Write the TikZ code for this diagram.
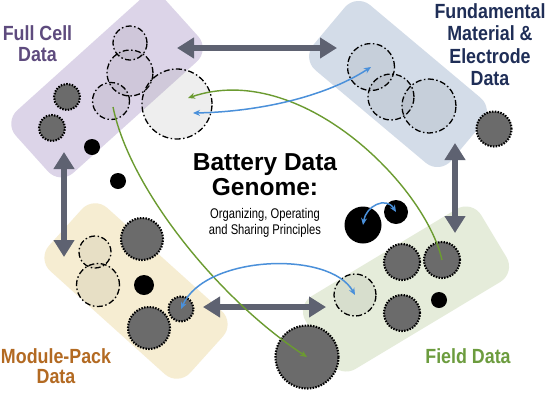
\documentclass[tikz,border=0pt]{standalone}
\usepackage{fontspec}
\setmainfont{Liberation Sans}
\newfontfamily\condfont[FakeStretch=0.87]{Liberation Sans}
\newfontfamily\subfont[FakeStretch=0.8]{Liberation Sans}
\usetikzlibrary{arrows.meta}
\definecolor{fcpanel}{HTML}{DCD4E8}
\definecolor{fupanel}{HTML}{D3DCE8}
\definecolor{mopanel}{HTML}{F6EDD2}
\definecolor{fipanel}{HTML}{E5ECDA}
\definecolor{fctext}{HTML}{5E4B7E}
\definecolor{futext}{HTML}{1F2E57}
\definecolor{motext}{HTML}{B36A22}
\definecolor{fitext}{HTML}{6C9C3E}
\definecolor{slate}{HTML}{5E6271}
\definecolor{dgray}{HTML}{6B6B6B}
\definecolor{grn}{HTML}{6B9B30}
\definecolor{blu}{HTML}{4A90DA}
\tikzset{
  panel/.style={rectangle, rounded corners=18pt, inner sep=0pt, draw=none},
  dotc/.style={circle, inner sep=0pt, fill=dgray, draw=black, line width=2.1pt,
    dash pattern=on 1.5pt off 1.3pt},
  ddc/.style={circle, inner sep=0pt, draw=black, line width=1.3pt,
    dash pattern=on 6pt off 2.5pt on 1.5pt off 2.5pt, fill=black, fill opacity=0.06},
  blk/.style={circle, inner sep=0pt, fill=black},
  bigarrow/.style={draw=slate, line width=6.5pt,
    {Triangle[length=17pt,width=20pt]}-{Triangle[length=17pt,width=20pt]}},
  garr/.style={draw=grn, line width=1.4pt, -{Stealth[length=7pt,width=6pt]}},
  barr/.style={draw=blu, line width=1.5pt,
    {Stealth[length=7pt,width=6pt]}-{Stealth[length=7pt,width=6pt]}},
  lab/.style={font=\condfont\bfseries\fontsize{20.5}{22}\selectfont, anchor=base, inner sep=0pt},
  ttl/.style={font=\bfseries\fontsize{24.5}{26}\selectfont, anchor=base, inner sep=0pt},
  sub/.style={font=\subfont\fontsize{14}{16}\selectfont, anchor=base, inner sep=0pt}
}
\begin{document}
\begin{tikzpicture}[x=1pt,y=-1pt]
\useasboundingbox (0,0) rectangle (554,392);
\clip (0,0) rectangle (554,392);
\fill[white] (0,0) rectangle (554,392);
% panels
\node[panel, fill=fcpanel, rotate=42, minimum width=202pt, minimum height=84pt] (pfc) at (107,86) {};
\node[panel, fill=fupanel, rotate=-40, minimum width=180pt, minimum height=85pt] (pfu) at (398,84) {};
\node[panel, fill=mopanel, rotate=-42, minimum width=190pt, minimum height=85pt] (pmo) at (136,291) {};
\node[panel, fill=fipanel, rotate=31, minimum width=205pt, minimum height=85pt] (pfi) at (406,289) {};
% full cell circles
\node[ddc, minimum size=34pt] (fcA) at (130,43) {};
\node[ddc, minimum size=46pt] (fcB) at (130,73) {};
\node[ddc, minimum size=37pt] (fcC) at (111,101) {};
\node[ddc, minimum size=70pt, fill=gray, fill opacity=0.13] (fcD) at (177,104) {};
\node[dotc, minimum size=26pt] (fcE) at (67,97) {};
\node[dotc, minimum size=26pt] (fcF) at (52,128) {};
\node[blk, minimum size=16pt] (fcG) at (92,147) {};
\node[blk, minimum size=16pt] (fcH) at (118,181) {};
% fundamental circles
\node[ddc, minimum size=47pt] (fuA) at (371,67) {};
\node[ddc, minimum size=46pt] (fuB) at (391,97) {};
\node[ddc, minimum size=54pt] (fuC) at (429,106) {};
\node[dotc, minimum size=35pt] (fuD) at (494,129) {};
% module circles
\node[ddc, minimum size=32pt] (moA) at (95,252) {};
\node[ddc, minimum size=43pt] (moB) at (98,285) {};
\node[dotc, minimum size=42pt] (moC) at (142,239) {};
\node[blk, minimum size=20pt] (moD) at (144,285) {};
\node[dotc, minimum size=25pt] (moE) at (181,309) {};
\node[dotc, minimum size=42pt] (moF) at (149,328) {};
% field circles
\node[blk, minimum size=37pt] (fiA) at (363,225) {};
\node[blk, minimum size=24pt] (fiB) at (396,212) {};
\node[dotc, minimum size=36pt] (fiC) at (402,262) {};
\node[dotc, minimum size=36pt] (fiD) at (442,260) {};
\node[ddc, minimum size=42pt] (fiE) at (355,295) {};
\node[dotc, minimum size=36pt] (fiF) at (402,313) {};
\node[blk, minimum size=16pt] (fiG) at (439,300) {};
\node[dotc, minimum size=63pt] (fiH) at (307,357) {};
% thick arrow end points
\coordinate (tl) at (177,48);
\coordinate (tr) at (337,48);
\coordinate (lt) at (64,152);
\coordinate (lb) at (64,257);
\coordinate (bl) at (203,307);
\coordinate (br) at (326,307);
\coordinate (rt) at (455,143);
\coordinate (rb) at (455,233);
\draw[bigarrow] (tl) -- (tr);
\draw[bigarrow] (lt) -- (lb);
\draw[bigarrow] (bl) -- (br);
\draw[bigarrow] (rt) -- (rb);
% curved arrows
\coordinate (g1e) at (188,98);
\coordinate (g2s) at (113,107);
\coordinate (b1s) at (193,113);
\draw[garr] (fiD.center) .. controls (425,185) and (300,60) .. (g1e);
\draw[garr] (g2s) .. controls (130,190) and (220,300) .. (fiH.center);
\draw[barr] (b1s) .. controls (250,112) and (320,100) .. (fuA.center);
\draw[barr] (moE.center) .. controls (205,255) and (330,250) .. (fiE.center);
\draw[barr] (fiA.center) .. controls (366,206) and (386,196) .. (fiB.center);
% labels
\node[lab, text=fctext] (l1) at (37.5,40.7) {Full Cell};
\node[lab, text=fctext] (l2) at (37.5,61.7) {Data};
\node[lab, text=futext] (l3) at (490,18.3) {Fundamental};
\node[lab, text=futext] (l4) at (490,40.5) {Material \&};
\node[lab, text=futext] (l5) at (490,63) {Electrode};
\node[lab, text=futext] (l6) at (490,85) {Data};
\node[lab, text=motext] (l7) at (56,363) {Module-Pack};
\node[lab, text=motext] (l8) at (56,383) {Data};
\node[lab, text=fitext] (l9) at (468,363) {Field Data};
\node[ttl] (t1) at (265,170) {Battery Data};
\node[ttl] (t2) at (265,195) {Genome:};
\node[sub] (s1) at (265,218.3) {Organizing, Operating};
\node[sub] (s2) at (265,234) {and Sharing Principles};
\end{tikzpicture}
\end{document}
